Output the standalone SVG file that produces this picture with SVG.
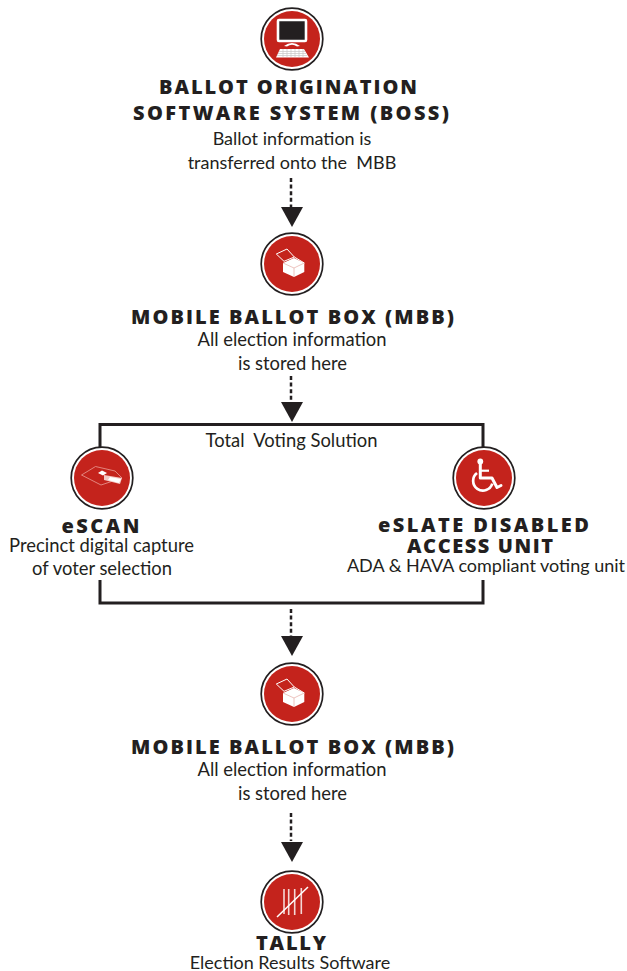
<svg xmlns="http://www.w3.org/2000/svg" width="627" height="971" viewBox="0 0 627 971">
<style>
text{font-family:"Open Sans","Noto Sans","Liberation Sans",sans-serif;text-anchor:middle;fill:#231f20}
.t{font-size:20px;font-weight:800}
.b{font-size:18px;font-family:Lato,"Open Sans",sans-serif}
.w{font-size:18.400px}
.ring{fill:#fff;stroke:#231f20;stroke-width:1.7}
.disc{fill:#c4231c}
.dash{fill:none;stroke:#231f20;stroke-width:2.5;stroke-dasharray:4 2.6}
.line{fill:none;stroke:#231f20;stroke-width:3}
.head{fill:#231f20}
</style>
<defs>
<g id="badge"><circle class="ring" r="30.8"/><circle class="disc" r="28"/></g>
<g id="box">
<path d="M-9 -1L2 -6L12.300 -1V8L2 13L-9 8Z" fill="#fff"/>
<path d="M-9 -1L2 4L12.300 -1M2 4V13" fill="none" stroke="#e9b5b0" stroke-width="0.8"/>
<path d="M-15.700 -10L-5 -15L2.300 -7L-8 -2.700Z M2.300 -7L12.300 -1" fill="none" stroke="#fff" stroke-width="1"/>
</g>
</defs>
<g id="connectors">
<path class="dash" d="M291 178V207"/><path class="head" d="M281 207H303L292 227Z"/>
<path class="dash" d="M291 376V402"/><path class="head" d="M281 402H303L292 422Z"/>
<path class="line" d="M100 447V424.500H483V447"/>
<path class="line" d="M100 580V603H483V580"/>
<path class="dash" d="M291 609V636"/><path class="head" d="M281 636H303L292 656Z"/>
<path class="dash" d="M291 813V841"/><path class="head" d="M281 842H303L292 862Z"/>
</g>
<g id="node-boss">
<g transform="translate(292 39)">
<use href="#badge"/>
<rect x="-14" y="-19" width="28" height="21" rx="1" fill="#231f20" stroke="#fff" stroke-width="2.600"/>
<path d="M-8 7Q0 1 8 7L5 7.500Q0 4 -5 7.500Z" fill="#fff"/>
<path d="M-12 10H12L17 18.500H-16Z" fill="#fff"/>
<path d="M-13 12.500H13M-14 14.500H14M-15 16.500H15M-9 10V18M-5 10V18M-1 10V18M3 10V18M7 10V18M11 10V18" stroke="#c9c5c5" stroke-width="0.7" fill="none"/>
</g>
<text class="t" x="288" y="94" textLength="258">BALLOT ORIGINATION</text>
<text class="t" x="291" y="120" textLength="316">SOFTWARE SYSTEM (BOSS)</text>
<text class="b" x="292" y="145">Ballot information is</text>
<text class="b" x="292" y="169" xml:space="preserve">transferred onto the  MBB</text>
</g>
<g id="node-mbb-1">
<g transform="translate(292 264)"><use href="#badge"/><use href="#box"/></g>
<text class="t" x="292.500" y="324" textLength="323">MOBILE BALLOT BOX (MBB)</text>
<text class="b w" x="292" y="346">All election information</text>
<text class="b w" x="292.500" y="370">is stored here</text>
</g>
<g id="group-label"><text class="b w" x="291.500" y="447" xml:space="preserve">Total  Voting Solution</text></g>
<g id="node-escan">
<g transform="translate(102 478)">
<use href="#badge"/>
<path d="M-20.500 -3L-6.500 -11.500L13 -7L20 0L-1 7Z" fill="none" stroke="#e58f88" stroke-width="0.9"/>
<path d="M-4 -5L0 -7.500L5 -5L1 -2.500Z" fill="#fff"/>
<path d="M2 -3L20 0L18 6L2 2Z" fill="#f3c9c5"/>
<path d="M8 -1L19 1L17 5L6 2Z" fill="#fff"/>
</g>
<text class="t" x="100.500" y="533" textLength="78">eSCAN</text>
<text class="b w" x="101.500" y="552">Precinct digital capture</text>
<text class="b w" x="102" y="575">of voter selection</text>
</g>
<g id="node-eslate">
<g transform="translate(484 478)">
<use href="#badge"/>
<circle cx="-3.700" cy="-16.500" r="2.900" fill="#fff"/>
<path d="M-3.700 -14V0H8L13 9.500L17 7.500" fill="none" stroke="#fff" stroke-width="3" stroke-linejoin="round" stroke-linecap="round"/>
<path d="M-3.700 -7.300H5" fill="none" stroke="#fff" stroke-width="2.200"/>
<path d="M-7 -5A9.800 9.800 0 1 0 8.300 5.700" fill="none" stroke="#fff" stroke-width="2.700"/>
</g>
<text class="t" x="483.500" y="532" textLength="211">eSLATE DISABLED</text>
<text class="t" x="480" y="553" textLength="146">ACCESS UNIT</text>
<text class="b" x="486" y="572">ADA &amp; HAVA compliant voting unit</text>
</g>
<g id="node-mbb-2">
<g transform="translate(292 694)"><use href="#badge"/><use href="#box"/></g>
<text class="t" x="292.500" y="754" textLength="323">MOBILE BALLOT BOX (MBB)</text>
<text class="b w" x="292" y="776">All election information</text>
<text class="b w" x="292.500" y="800">is stored here</text>
</g>
<g id="node-tally">
<g transform="translate(292 902)">
<use href="#badge"/>
<path d="M-8 -13V12M-3.300 -13V13M2.700 -13V13M9.300 -14V12" stroke="#f4d8d5" stroke-width="1.600" fill="none"/>
<path d="M-15 15L16 -15" stroke="#fff" stroke-width="1.500" fill="none"/>
</g>
<text class="t" x="291" y="950" textLength="70">TALLY</text>
<text class="b" x="290" y="968.500">Election Results Software</text>
</g>
</svg>
